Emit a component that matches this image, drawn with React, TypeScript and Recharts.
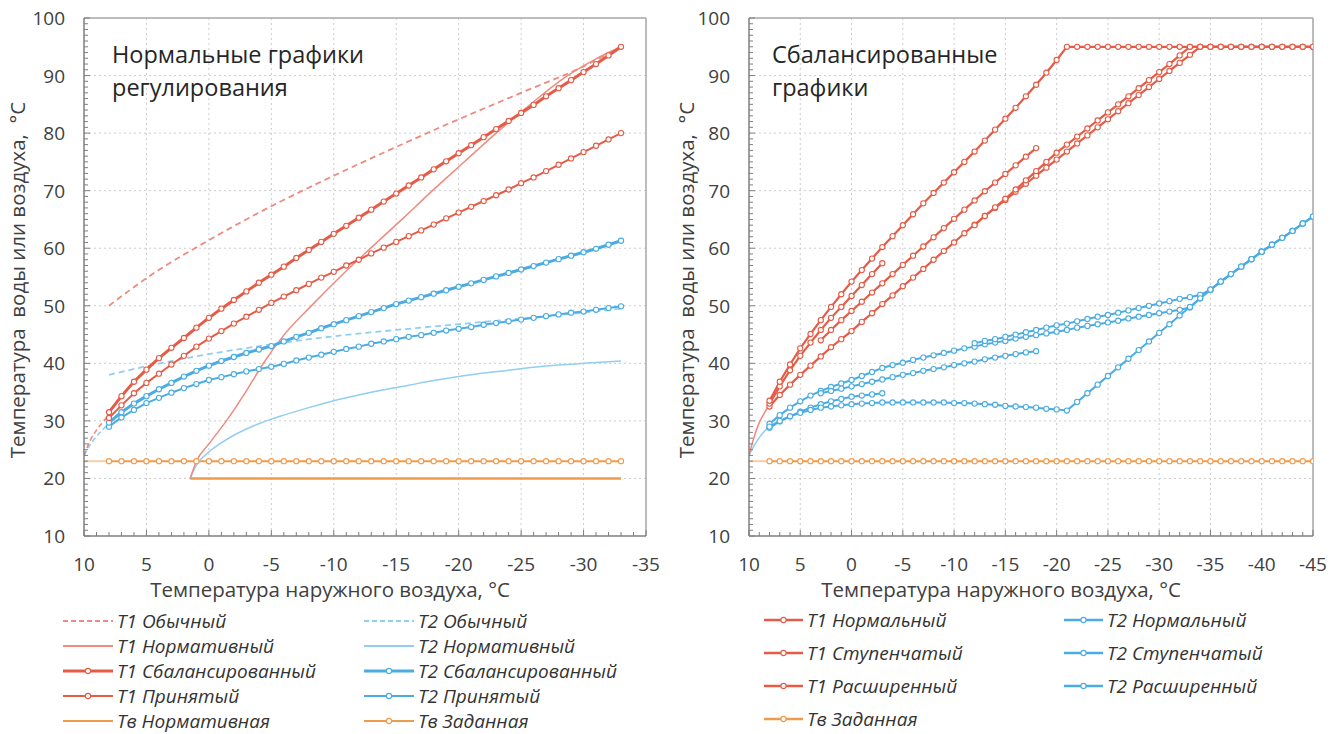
import React from 'react';
import { LineChart, Line, XAxis, YAxis, CartesianGrid, ReferenceLine } from 'recharts';

// ---------- left panel: "Нормальные графики регулирования" ----------
const LEFT_X = [8, 7, 6, 5, 4, 3, 2, 1, 0, -1, -2, -3, -4, -5, -6, -7, -8, -9, -10, -11, -12, -13, -14, -15, -16, -17, -18, -19, -20, -21, -22, -23, -24, -25, -26, -27, -28, -29, -30, -31, -32, -33];

const T1_BALANCED = [31.5, 34.3, 36.8, 38.9, 40.9, 42.7, 44.4, 46.2, 47.9, 49.5, 51.0, 52.5, 54.0, 55.4, 56.8, 58.3, 59.7, 61.1, 62.5, 63.9, 65.3, 66.7, 68.1, 69.5, 70.9, 72.3, 73.7, 75.1, 76.5, 77.9, 79.3, 80.7, 82.1, 83.5, 84.9, 86.4, 87.8, 89.2, 90.6, 92.0, 93.5, 95.0];
const T1_ACCEPTED = [30.5, 32.7, 34.8, 36.6, 38.2, 39.8, 41.3, 42.9, 44.3, 45.6, 46.9, 48.1, 49.3, 50.5, 51.6, 52.7, 53.8, 54.9, 55.9, 57.0, 58.0, 59.1, 60.1, 61.1, 62.1, 63.1, 64.1, 65.2, 66.2, 67.2, 68.2, 69.2, 70.2, 71.3, 72.3, 73.4, 74.5, 75.6, 76.7, 77.8, 78.9, 80.0];
const T2_BALANCED = [29.7, 31.5, 33.0, 34.3, 35.5, 36.6, 37.7, 38.7, 39.6, 40.4, 41.1, 41.8, 42.4, 43.0, 43.8, 44.6, 45.3, 46.1, 46.8, 47.5, 48.2, 48.9, 49.6, 50.3, 50.9, 51.5, 52.1, 52.7, 53.3, 53.9, 54.5, 55.1, 55.7, 56.3, 56.9, 57.5, 58.1, 58.7, 59.3, 59.9, 60.6, 61.3];
const T2_ACCEPTED = [29.0, 30.6, 31.9, 33.1, 34.0, 34.9, 35.7, 36.4, 37.1, 37.6, 38.1, 38.6, 39.0, 39.4, 39.9, 40.5, 41.0, 41.5, 42.0, 42.5, 42.9, 43.4, 43.8, 44.2, 44.6, 44.9, 45.3, 45.7, 46.0, 46.3, 46.7, 47.0, 47.3, 47.6, 47.9, 48.2, 48.5, 48.8, 49.0, 49.3, 49.6, 49.9];

const USUAL_X = [8, 5, 0, -5, -10, -15, -20, -25, -30, -33];
const T1_USUAL = [50.0, 54.8, 61.4, 67.3, 72.6, 77.6, 82.4, 87.0, 91.6, 95.0];
const T2_USUAL = [38.0, 39.5, 41.6, 43.3, 44.7, 45.8, 46.8, 47.8, 48.8, 49.5];

const T1_NORM_X = [1.5, 1, 0, -1.5, -3, -4.3, -6, -8.3, -10.5, -13, -15.5, -17.9, -20.5, -23, -25.8, -28.6, -31, -33];
const T1_NORM = [20, 23, 26, 30.3, 35.2, 39.8, 44.9, 50.2, 55.0, 60.1, 65.1, 70.0, 75.1, 80.0, 85.1, 89.8, 92.9, 95.0];
const T2_NORM_X = [1.5, 1, 0, -1, -2, -3, -4, -5, -6, -8, -10, -12, -14, -16, -18, -20, -22, -24, -26, -28, -30, -33];
const T2_NORM = [20, 22.3, 24.6, 26.2, 27.5, 28.6, 29.5, 30.3, 31.0, 32.3, 33.5, 34.5, 35.4, 36.2, 37.0, 37.7, 38.3, 38.8, 39.3, 39.7, 40.0, 40.4];

const TV_NORM_X = [1.5, -33];
const TV_NORM = 20;
const TV_SET = 23;

const LEAD_X = [10, 9.5, 9, 8.5, 8];
const T1_LEAD_LEFT = [24.0, 26.6, 28.4, 29.8, 31.0];
const T2_LEAD_LEFT = [24.0, 25.9, 27.3, 28.5, 29.5];

// ---------- right panel: "Сбалансированные графики" ----------
const RIGHT_X = [8, 7, 6, 5, 4, 3, 2, 1, 0, -1, -2, -3, -4, -5, -6, -7, -8, -9, -10, -11, -12, -13, -14, -15, -16, -17, -18, -19, -20, -21, -22, -23, -24, -25, -26, -27, -28, -29, -30, -31, -32, -33, -34, -35, -36, -37, -38, -39, -40, -41, -42, -43, -44, -45];

const T1_NORMAL_R = [32.5, 34.5, 36.3, 38.0, 39.6, 41.2, 42.8, 44.2, 45.6, 47.2, 48.7, 50.3, 51.8, 53.4, 54.9, 56.4, 58.0, 59.5, 61.0, 62.6, 64.1, 65.6, 67.0, 68.4, 69.8, 71.2, 72.6, 74.0, 75.4, 76.8, 78.2, 79.6, 81.0, 82.4, 83.8, 85.2, 86.6, 88.0, 89.4, 90.8, 92.2, 93.6, 95.0, 95, 95, 95, 95, 95, 95, 95, 95, 95, 95, 95];
const T1_EXT_R = [33.5, 36.8, 39.8, 42.6, 45.1, 47.5, 49.8, 52.0, 54.2, 56.2, 58.2, 60.2, 62.1, 64.0, 65.9, 67.8, 69.6, 71.4, 73.2, 75.0, 76.8, 78.7, 80.6, 82.5, 84.4, 86.4, 88.4, 90.5, 92.7, 95.0, 95, 95, 95, 95, 95, 95, 95, 95, 95, 95, 95, 95, 95, 95, 95, 95, 95, 95, 95, 95, 95, 95, 95, 95];
const T2_NORMAL_R = [29.5, 31.0, 32.3, 33.4, 34.4, 35.2, 35.9, 36.5, 37.1, 37.8, 38.5, 39.2, 39.7, 40.1, 40.6, 41.0, 41.4, 41.8, 42.2, 42.6, 42.9, 43.3, 43.6, 43.9, 44.3, 44.6, 44.9, 45.2, 45.5, 45.8, 46.2, 46.5, 46.8, 47.1, 47.4, 47.8, 48.1, 48.4, 48.7, 49.0, 49.3, 49.7, 51.3, 52.8, 54.2, 55.5, 56.8, 58.1, 59.4, 60.6, 61.8, 63.0, 64.3, 65.5];
const T2_EXT_R = [29.0, 30.0, 30.8, 31.4, 31.9, 32.3, 32.5, 32.7, 32.9, 33.0, 33.1, 33.2, 33.2, 33.2, 33.2, 33.2, 33.2, 33.2, 33.1, 33.1, 33.0, 32.9, 32.8, 32.6, 32.5, 32.4, 32.3, 32.1, 32.0, 31.8, 33.3, 34.8, 36.3, 37.8, 39.3, 40.8, 42.3, 43.8, 45.3, 46.8, 48.3, 49.8, 51.3, 52.8, 54.2, 55.5, 56.8, 58.1, 59.4, 60.6, 61.8, 63.0, 64.3, 65.5];

// stepped graph = three pieces
const STEP1_X = [8, 7, 6, 5, 4, 3, 2, 1, 0, -1, -2, -3];
const STEP2_X = [3, 2, 1, 0, -1, -2, -3, -4, -5, -6, -7, -8, -9, -10, -11, -12, -13, -14, -15, -16, -17, -18];
const STEP3_X = [-12, -13, -14, -15, -16, -17, -18, -19, -20, -21, -22, -23, -24, -25, -26, -27, -28, -29, -30, -31, -32, -33, -34, -35, -36, -37, -38, -39, -40, -41, -42, -43, -44, -45];
const T1_STEP1 = [33.0, 36.0, 38.8, 41.3, 43.6, 45.8, 47.9, 49.8, 51.7, 53.6, 55.5, 57.4];
const T1_STEP2 = [44.0, 45.8, 47.5, 49.1, 50.7, 52.3, 53.9, 55.5, 57.1, 58.7, 60.3, 61.9, 63.5, 65.1, 66.7, 68.3, 69.9, 71.4, 72.9, 74.4, 75.9, 77.4];
const T1_STEP3 = [64.0, 65.6, 67.1, 68.6, 70.2, 71.8, 73.4, 75.0, 76.6, 78.0, 79.4, 80.8, 82.2, 83.6, 85.0, 86.4, 87.8, 89.2, 90.6, 92.0, 93.5, 95.0, 95, 95, 95, 95, 95, 95, 95, 95, 95, 95, 95, 95];
const T2_STEP1 = [28.8, 29.9, 30.8, 31.6, 32.3, 32.9, 33.4, 33.8, 34.2, 34.4, 34.6, 34.8];
const T2_STEP2 = [34.8, 35.2, 35.6, 36.0, 36.4, 36.8, 37.2, 37.6, 38.0, 38.3, 38.7, 39.0, 39.3, 39.7, 40.0, 40.3, 40.7, 41.0, 41.3, 41.6, 41.9, 42.1];
const T2_STEP3 = [43.5, 43.9, 44.2, 44.6, 45.0, 45.4, 45.8, 46.2, 46.6, 46.9, 47.3, 47.7, 48.1, 48.4, 48.8, 49.2, 49.6, 50.0, 50.4, 50.8, 51.2, 51.5, 51.9, 52.8, 54.2, 55.5, 56.8, 58.1, 59.4, 60.6, 61.8, 63.0, 64.3, 65.5];

const T1_LEAD_RIGHT = [24.0, 27.2, 29.7, 31.4, 32.8];
const T2_LEAD_RIGHT = [24.0, 25.7, 27.1, 28.2, 29.0];

// ---------- styling ----------
const FONT = '"Open Sans", "Noto Sans", sans-serif';
const TXT = '#404040';
const RED = '#E65B46';
const RED_LIGHT = '#F08A7E';
const BLUE = '#4AACE2';
const BLUE_LIGHT = '#92CEF0';
const ORANGE = '#F09A4C';
const ORANGE_LIGHT = '#F8CDA8';

const Y_TICKS = Array.from({ length: 91 }, (_, i) => 10 + i);
const Y_GRID = [20, 30, 40, 50, 60, 70, 80, 90];

type Pt = { x: number; y: number | null };
const pts = (xs: number[], ys: number[]): Pt[] => xs.map((x, i) => ({ x, y: ys[i] }));
const flat = (xs: number[], v: number): Pt[] => xs.map((x) => ({ x, y: v }));
const pieces = (...segs: Pt[][]): Pt[] =>
  segs.flatMap((s, i) => (i === 0 ? s : [{ x: s[0].x, y: null }, ...s]));

interface Series {
  name: string;
  data: Pt[];
  color: string;
  width: number;
  dash?: string;
  dot?: boolean;
  curve?: 'linear' | 'monotone';
}

const leftSeries: Series[] = [
  { name: 'lead-tv', data: flat([10, 8], TV_SET), color: ORANGE_LIGHT, width: 2 },
  { name: 'Тв Нормативная', data: flat(TV_NORM_X, TV_NORM), color: ORANGE, width: 2.5 },
  { name: 'Тв Заданная', data: flat(LEFT_X, TV_SET), color: ORANGE, width: 2, dot: true },
  { name: 'T2 Нормативный', data: pts(T2_NORM_X, T2_NORM), color: BLUE_LIGHT, width: 1.5, curve: 'monotone' },
  { name: 'T1 Нормативный', data: pts(T1_NORM_X, T1_NORM), color: RED_LIGHT, width: 1.5, curve: 'monotone' },
  { name: 'lead-t2', data: pts(LEAD_X, T2_LEAD_LEFT), color: BLUE_LIGHT, width: 1.6, dash: '5 3', curve: 'monotone' },
  { name: 'lead-t1', data: pts(LEAD_X, T1_LEAD_LEFT), color: RED_LIGHT, width: 1.6, dash: '5 3', curve: 'monotone' },
  { name: 'T2 Обычный', data: pts(USUAL_X, T2_USUAL), color: BLUE_LIGHT, width: 1.8, dash: '6 4', curve: 'monotone' },
  { name: 'T1 Обычный', data: pts(USUAL_X, T1_USUAL), color: RED_LIGHT, width: 1.8, dash: '6 4', curve: 'monotone' },
  { name: 'T2 Принятый', data: pts(LEFT_X, T2_ACCEPTED), color: BLUE, width: 2, dot: true },
  { name: 'T2 Сбалансированный', data: pts(LEFT_X, T2_BALANCED), color: BLUE, width: 3, dot: true },
  { name: 'T1 Принятый', data: pts(LEFT_X, T1_ACCEPTED), color: RED, width: 2, dot: true },
  { name: 'T1 Сбалансированный', data: pts(LEFT_X, T1_BALANCED), color: RED, width: 3, dot: true },
];

const rightSeries: Series[] = [
  { name: 'lead-tv', data: flat([10, 8], TV_SET), color: ORANGE_LIGHT, width: 2 },
  { name: 'Тв Заданная', data: flat(RIGHT_X, TV_SET), color: ORANGE, width: 2, dot: true },
  { name: 'lead-t2', data: pts(LEAD_X, T2_LEAD_RIGHT), color: BLUE_LIGHT, width: 1.5, curve: 'monotone' },
  { name: 'lead-t1', data: pts(LEAD_X, T1_LEAD_RIGHT), color: RED_LIGHT, width: 1.5, curve: 'monotone' },
  { name: 'T2 Нормальный', data: pts(RIGHT_X, T2_NORMAL_R), color: BLUE, width: 2, dot: true },
  { name: 'T2 Ступенчатый', data: pieces(pts(STEP1_X, T2_STEP1), pts(STEP2_X, T2_STEP2), pts(STEP3_X, T2_STEP3)), color: BLUE, width: 2, dot: true },
  { name: 'T2 Расширенный', data: pts(RIGHT_X, T2_EXT_R), color: BLUE, width: 2, dot: true },
  { name: 'T1 Нормальный', data: pts(RIGHT_X, T1_NORMAL_R), color: RED, width: 2.2, dot: true },
  { name: 'T1 Ступенчатый', data: pieces(pts(STEP1_X, T1_STEP1), pts(STEP2_X, T1_STEP2), pts(STEP3_X, T1_STEP3)), color: RED, width: 2.2, dot: true },
  { name: 'T1 Расширенный', data: pts(RIGHT_X, T1_EXT_R), color: RED, width: 2.2, dot: true },
];

const XTick = (p: any) => {
  const { x, y, payload } = p;
  const v = payload.value as number;
  const major = v % 5 === 0;
  return (
    <g>
      <line x1={x} x2={x} y1={y} y2={y - (major ? 6 : 4)} stroke="#7F7F7F" />
      {major && (
        <text x={x} y={y + 28} textAnchor="middle" dominantBaseline="central" fontSize={19} fill={TXT} fontFamily={FONT}>
          {v}
        </text>
      )}
    </g>
  );
};

const YTick = (p: any) => {
  const { x, y, payload } = p;
  const v = payload.value as number;
  const major = v % 10 === 0;
  return (
    <g>
      <line x1={x} x2={x + (major ? 6 : 4)} y1={y} y2={y} stroke="#7F7F7F" />
      {major && (
        <text x={x - 19} y={y} textAnchor="end" dominantBaseline="central" fontSize={19} fill={TXT} fontFamily={FONT}>
          {v}
        </text>
      )}
    </g>
  );
};

function Panel({ left, width, right, minX, series }: { left: number; width: number; right: number; minX: number; series: Series[] }) {
  const xTicks = Array.from({ length: 11 - minX }, (_, i) => 10 - i);
  const xGrid = xTicks.filter((t) => t % 5 === 0 && t < 10 && t > minX);
  return (
    <div style={{ position: 'absolute', left, top: 0 }}>
      <LineChart width={width} height={600} margin={{ top: 18, right, bottom: 0, left: 0 }}>
        <CartesianGrid stroke="#CCCCCC" strokeDasharray="2 3" verticalValues={xGrid} horizontalValues={Y_GRID} />
        <XAxis
          type="number"
          dataKey="x"
          domain={[minX, 10]}
          reversed
          ticks={xTicks}
          interval={0}
          tick={(p: any) => <XTick {...p} />}
          tickLine={false}
          tickSize={0}
          tickMargin={0}
          axisLine={{ stroke: '#7F7F7F', strokeWidth: 1.5 }}
          height={64}
          allowDataOverflow
        />
        <YAxis
          type="number"
          domain={[10, 100]}
          ticks={Y_TICKS}
          interval={0}
          tick={(p: any) => <YTick {...p} />}
          tickLine={false}
          tickSize={0}
          tickMargin={0}
          width={84}
          axisLine={{ stroke: '#7F7F7F', strokeWidth: 1.5 }}
          allowDataOverflow
        />
        <ReferenceLine y={100} stroke="#A6A6A6" strokeWidth={1.5} />
        <ReferenceLine x={minX} stroke="#A6A6A6" strokeWidth={1.5} />
        {series.map((s) => (
          <Line
            key={s.name}
            data={s.data}
            dataKey="y"
            type={s.curve ?? 'linear'}
            stroke={s.color}
            strokeWidth={s.width}
            strokeDasharray={s.dash}
            dot={s.dot ? { r: 2.6, fill: '#fff', stroke: s.color, strokeWidth: 1.1 } : false}
            activeDot={false}
            isAnimationActive={false}
          />
        ))}
      </LineChart>
    </div>
  );
}

interface LegendEntry {
  label: string;
  color: string;
  width: number;
  dash?: string;
  dot?: boolean;
}

const LEFT_LEGEND: LegendEntry[][] = [
  [
    { label: 'Т1 Обычный', color: RED_LIGHT, width: 1.8, dash: '5 3' },
    { label: 'Т1 Нормативный', color: RED_LIGHT, width: 1.8 },
    { label: 'Т1 Сбалансированный', color: RED, width: 3, dot: true },
    { label: 'Т1 Принятый', color: RED, width: 2, dot: true },
    { label: 'Тв Нормативная', color: ORANGE, width: 2 },
  ],
  [
    { label: 'Т2 Обычный', color: BLUE_LIGHT, width: 1.8, dash: '5 3' },
    { label: 'Т2 Нормативный', color: BLUE_LIGHT, width: 1.8 },
    { label: 'Т2 Сбалансированный', color: BLUE, width: 3, dot: true },
    { label: 'Т2 Принятый', color: BLUE, width: 2, dot: true },
    { label: 'Тв Заданная', color: ORANGE, width: 2, dot: true },
  ],
];

const RIGHT_LEGEND: LegendEntry[][] = [
  [
    { label: 'Т1 Нормальный', color: RED, width: 2.5, dot: true },
    { label: 'Т1 Ступенчатый', color: RED, width: 2.5, dot: true },
    { label: 'Т1 Расширенный', color: RED, width: 2.5, dot: true },
    { label: 'Тв Заданная', color: ORANGE, width: 2.5, dot: true },
  ],
  [
    { label: 'Т2 Нормальный', color: BLUE, width: 2.5, dot: true },
    { label: 'Т2 Ступенчатый', color: BLUE, width: 2.5, dot: true },
    { label: 'Т2 Расширенный', color: BLUE, width: 2.5, dot: true },
  ],
];

function LegendBlock({ cols, xs, lineW, y0, step }: { cols: LegendEntry[][]; xs: number[]; lineW: number; y0: number; step: number }) {
  return (
    <>
      {cols.map((col, ci) =>
        col.map((e, ri) => {
          const x = xs[ci];
          const y = y0 + ri * step;
          return (
            <g key={e.label + ci}>
              <line x1={x} x2={x + lineW} y1={y} y2={y} stroke={e.color} strokeWidth={e.width} strokeDasharray={e.dash} />
              {e.dot && <circle cx={x + lineW / 2} cy={y} r={2.6} fill="#fff" stroke={e.color} strokeWidth={1.1} />}
              <text x={x + lineW + 4} y={y + 6.5} fontSize={19} fontStyle="italic" fill="#333" fontFamily={FONT}>
                {e.label}
              </text>
            </g>
          );
        })
      )}
    </>
  );
}

export default function App() {
  return (
    <div style={{ position: 'relative', width: 1338, height: 734, background: '#fff', fontFamily: FONT }}>
      <style>{'body{margin:0}'}</style>
      <Panel left={0} width={660} right={14} minX={-35} series={leftSeries} />
      <Panel left={665} width={673} right={25} minX={-45} series={rightSeries} />
      <svg width={1338} height={734} style={{ position: 'absolute', left: 0, top: 0, pointerEvents: 'none' }}>
        <g fontFamily={FONT} fill="#262626" fontSize={23.5}>
          <text x={112} y={63}>Нормальные графики</text>
          <text x={112} y={96}>регулирования</text>
          <text x={772} y={63}>Сбалансированные</text>
          <text x={772} y={96}>графики</text>
        </g>
        <g fontFamily={FONT} fill={TXT} fontSize={20.5}>
          <text x={330} y={597} textAnchor="middle">Температура наружного воздуха, °C</text>
          <text x={1001} y={597} textAnchor="middle">Температура наружного воздуха, °C</text>
          <text transform="translate(17,280) rotate(-90)" textAnchor="middle" dominantBaseline="central" style={{ whiteSpace: 'pre' }}>
            Температура  воды или воздуха,  °C
          </text>
          <text transform="translate(686,280) rotate(-90)" textAnchor="middle" dominantBaseline="central" style={{ whiteSpace: 'pre' }}>
            Температура  воды или воздуха,  °C
          </text>
        </g>
        <LegendBlock cols={LEFT_LEGEND} xs={[63, 364]} lineW={50} y0={621} step={25} />
        <LegendBlock cols={RIGHT_LEGEND} xs={[764, 1064]} lineW={39} y0={620} step={33} />
      </svg>
    </div>
  );
}
